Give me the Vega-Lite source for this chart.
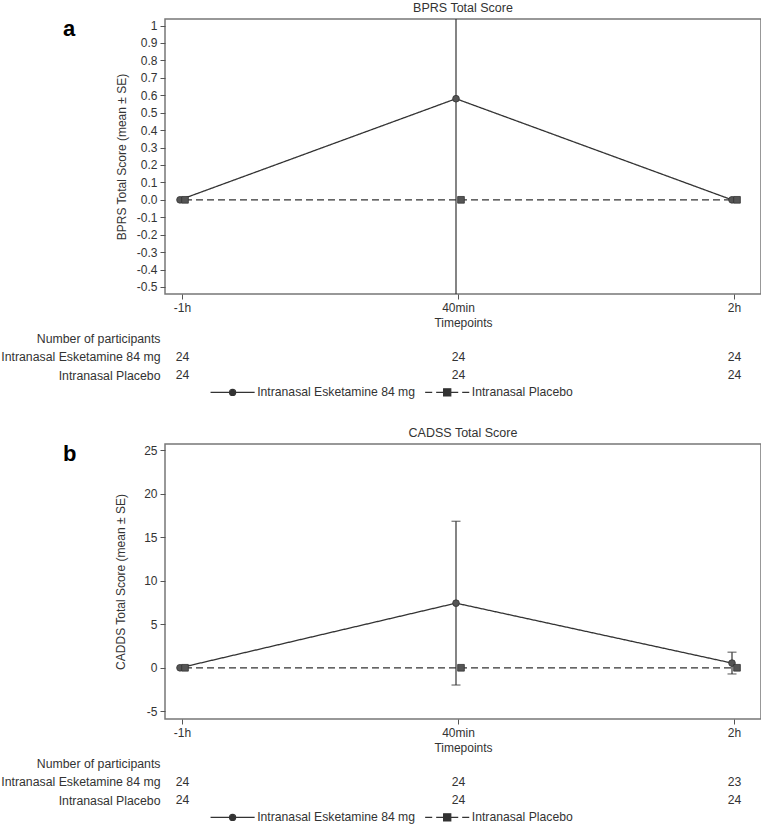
{
  "$schema": "https://vega.github.io/schema/vega-lite/v6.json",
  "background": "white",
  "padding": {"left": 0, "top": 0, "right": 0, "bottom": 0},
  "autosize": {"type": "pad"},
  "spacing": 26,
  "resolve": {"scale": {"color": "independent"}, "legend": {"color": "independent"}},
  "datasets": {
    "bprs": [
      {"time": "-1h", "hour": -1, "group": "Intranasal Esketamine 84 mg", "mean": 0, "lo": 0, "hi": 0},
      {"time": "40min", "hour": 0.667, "group": "Intranasal Esketamine 84 mg", "mean": 0.58, "lo": -0.95, "hi": 2.11},
      {"time": "2h", "hour": 2, "group": "Intranasal Esketamine 84 mg", "mean": 0, "lo": 0, "hi": 0},
      {"time": "-1h", "hour": -1, "group": "Intranasal Placebo", "mean": 0, "lo": 0, "hi": 0},
      {"time": "40min", "hour": 0.667, "group": "Intranasal Placebo", "mean": 0, "lo": 0, "hi": 0},
      {"time": "2h", "hour": 2, "group": "Intranasal Placebo", "mean": 0, "lo": 0, "hi": 0}
    ],
    "cadss": [
      {"time": "-1h", "hour": -1, "group": "Intranasal Esketamine 84 mg", "mean": 0, "lo": 0, "hi": 0},
      {"time": "40min", "hour": 0.667, "group": "Intranasal Esketamine 84 mg", "mean": 7.42, "lo": -1.98, "hi": 16.82},
      {"time": "2h", "hour": 2, "group": "Intranasal Esketamine 84 mg", "mean": 0.54, "lo": -0.71, "hi": 1.79},
      {"time": "-1h", "hour": -1, "group": "Intranasal Placebo", "mean": 0, "lo": 0, "hi": 0},
      {"time": "40min", "hour": 0.667, "group": "Intranasal Placebo", "mean": 0, "lo": 0, "hi": 0},
      {"time": "2h", "hour": 2, "group": "Intranasal Placebo", "mean": 0, "lo": 0, "hi": 0}
    ],
    "nA": [
      {"time": "-1h", "group": "Intranasal Esketamine 84 mg", "n": 24},
      {"time": "40min", "group": "Intranasal Esketamine 84 mg", "n": 24},
      {"time": "2h", "group": "Intranasal Esketamine 84 mg", "n": 24},
      {"time": "-1h", "group": "Intranasal Placebo", "n": 24},
      {"time": "40min", "group": "Intranasal Placebo", "n": 24},
      {"time": "2h", "group": "Intranasal Placebo", "n": 24}
    ],
    "nB": [
      {"time": "-1h", "group": "Intranasal Esketamine 84 mg", "n": 24},
      {"time": "40min", "group": "Intranasal Esketamine 84 mg", "n": 24},
      {"time": "2h", "group": "Intranasal Esketamine 84 mg", "n": 23},
      {"time": "-1h", "group": "Intranasal Placebo", "n": 24},
      {"time": "40min", "group": "Intranasal Placebo", "n": 24},
      {"time": "2h", "group": "Intranasal Placebo", "n": 24}
    ]
  },
  "vconcat": [
    {
      "title": {"text": "a", "anchor": "start", "frame": "group", "fontSize": 22, "fontWeight": "bold", "color": "#000", "dx": -102, "offset": -40},
      "bounds": "flush",
      "spacing": 44,
      "resolve": {"scale": {"color": "independent"}, "legend": {"color": "independent"}},
      "vconcat": [
        {
          "width": 596,
          "height": 275,
          "title": {"text": "BPRS Total Score", "anchor": "middle", "offset": 5},
          "data": {"name": "bprs"},
          "encoding": {
            "x": {"field": "time", "type": "nominal", "sort": null,
              "scale": {"type": "band", "domain": ["-1h", "40min", "2h"], "paddingInner": 0.9275, "paddingOuter": 0.04345, "align": 0.3126},
              "axis": {"title": "Timepoints", "labelAngle": 0, "tickSize": 5, "labelPadding": 3, "titlePadding": 4, "domain": false}},
            "xOffset": {"field": "group", "type": "nominal", "scale": {"domain": ["Intranasal Esketamine 84 mg", "Intranasal Placebo"], "range": [5, 15]}}
          },
          "layer": [
            {
              "mark": {"type": "rule", "clip": true, "color": "#333", "strokeWidth": 1.2},
              "encoding": {
                "y": {"field": "lo", "type": "quantitative", "title": "BPRS Total Score (mean ± SE)",
                  "scale": {"domain": [-0.5402, 1.0373], "nice": false, "zero": false},
                  "axis": {"values": [-0.5, -0.4, -0.3, -0.2, -0.1, 0, 0.1, 0.2, 0.3, 0.4, 0.5, 0.6, 0.7, 0.8, 0.9, 1], "tickCount": 40, "labelOverlap": false, "labelExpr": "datum.value >= 0.99 ? '1' : (datum.value < -0.001 ? '-' + format(-datum.value, '.1f') : format(abs(datum.value), '.1f'))", "tickSize": 5, "labelPadding": 3, "titlePadding": 8, "domain": false}},
                "y2": {"field": "hi"}
              }
            },
            {
              "transform": [{"filter": "datum.hi > datum.lo"}],
              "mark": {"type": "tick", "orient": "horizontal", "size": 9, "thickness": 1.2, "color": "#333", "clip": true},
              "encoding": {"y": {"field": "hi", "type": "quantitative", "title": "BPRS Total Score (mean ± SE)"}}
            },
            {
              "transform": [{"filter": "datum.hi > datum.lo"}],
              "mark": {"type": "tick", "orient": "horizontal", "size": 9, "thickness": 1.2, "color": "#333", "clip": true},
              "encoding": {"y": {"field": "lo", "type": "quantitative", "title": "BPRS Total Score (mean ± SE)"}}
            },
            {
              "mark": {"type": "line", "color": "#333", "strokeWidth": 1.3},
              "encoding": {
                "y": {"field": "mean", "type": "quantitative", "title": "BPRS Total Score (mean ± SE)"},
                "order": {"field": "hour", "type": "quantitative"},
                "strokeDash": {"field": "group", "type": "nominal", "scale": {"domain": ["Intranasal Esketamine 84 mg", "Intranasal Placebo"], "range": [[1, 0], [7, 4]]}, "legend": null}
              }
            },
            {
              "mark": {"type": "point", "filled": true, "fill": "#555", "stroke": "#333", "strokeWidth": 0.8, "size": 45, "opacity": 1},
              "encoding": {
                "y": {"field": "mean", "type": "quantitative", "title": "BPRS Total Score (mean ± SE)"},
                "shape": {"field": "group", "type": "nominal", "scale": {"domain": ["Intranasal Esketamine 84 mg", "Intranasal Placebo"], "range": ["circle", "square"]}, "legend": null}
              }
            }
          ]
        },
        {
          "width": 596,
          "height": 37,
          "data": {"name": "nA"},
          "view": {"stroke": null},
          "mark": {"type": "text", "fontSize": 12.2},
          "encoding": {
            "x": {"field": "time", "type": "nominal", "sort": null,
              "scale": {"type": "band", "domain": ["-1h", "40min", "2h"], "paddingInner": 0.9275, "paddingOuter": 0.04345, "align": 0.3126},
              "axis": null},
            "y": {"field": "group", "type": "nominal",
              "scale": {"type": "point", "domain": ["Number of participants", "Intranasal Esketamine 84 mg", "Intranasal Placebo"], "padding": 0},
              "axis": {"title": null, "domain": false, "ticks": false, "labelPadding": 5, "labelLimit": 300, "labelFontSize": 12.3}},
            "text": {"field": "n", "type": "quantitative"},
            "color": {"field": "group", "type": "nominal",
              "scale": {"domain": ["Intranasal Esketamine 84 mg", "Intranasal Placebo"], "range": ["#333333", "#333333"]},
              "legend": {
                "orient": "none", "legendX": 59.6, "legendY": 46, "direction": "horizontal", "title": null,
                "symbolSize": 216, "labelOffset": 16.6, "columnPadding": 6.6, "padding": 0,
                "labelFontSize": 12.2, "labelColor": "#333", "labelLimit": 300,
                "encode": {"symbols": {"update": {
                  "shape": {"signal": "datum.value == 'Intranasal Placebo' ? 'M-3,0H-2.04M-1.5,0H-0.48M0.48,0H1.5M2.04,0H3M-0.48,-0.48H0.48V0.48H-0.48Z' : 'M-3,0H3M-0.41,0A0.41,0.41,0,1,1,0.41,0A0.41,0.41,0,1,1,-0.41,0Z'"},
                  "fill": {"value": "#555"}, "stroke": {"value": "#333"}, "strokeWidth": {"value": 1.3}, "opacity": {"value": 1}
                }}}
              }}
          }
        }
      ]
    },
    {
      "title": {"text": "b", "anchor": "start", "frame": "group", "fontSize": 22, "fontWeight": "bold", "color": "#000", "dx": -102, "offset": -40},
      "bounds": "flush",
      "spacing": 44,
      "resolve": {"scale": {"color": "independent"}, "legend": {"color": "independent"}},
      "vconcat": [
        {
          "width": 596,
          "height": 275,
          "title": {"text": "CADSS Total Score", "anchor": "middle", "offset": 5},
          "data": {"name": "cadss"},
          "encoding": {
            "x": {"field": "time", "type": "nominal", "sort": null,
              "scale": {"type": "band", "domain": ["-1h", "40min", "2h"], "paddingInner": 0.9275, "paddingOuter": 0.04345, "align": 0.3126},
              "axis": {"title": "Timepoints", "labelAngle": 0, "tickSize": 5, "labelPadding": 3, "titlePadding": 4, "domain": false}},
            "xOffset": {"field": "group", "type": "nominal", "scale": {"domain": ["Intranasal Esketamine 84 mg", "Intranasal Placebo"], "range": [5, 15]}}
          },
          "layer": [
            {
              "mark": {"type": "rule", "clip": true, "color": "#333", "strokeWidth": 1.2},
              "encoding": {
                "y": {"field": "lo", "type": "quantitative", "title": "CADDS Total Score (mean ± SE)",
                  "scale": {"domain": [-5.88, 25.69], "nice": false, "zero": false},
                  "axis": {"values": [-5, 0, 5, 10, 15, 20, 25], "tickCount": 40, "labelOverlap": false, "labelExpr": "replace(datum.label, '−', '-')", "tickSize": 5, "labelPadding": 3, "titlePadding": 16, "domain": false}},
                "y2": {"field": "hi"}
              }
            },
            {
              "transform": [{"filter": "datum.hi > datum.lo"}],
              "mark": {"type": "tick", "orient": "horizontal", "size": 9, "thickness": 1.2, "color": "#333", "clip": true},
              "encoding": {"y": {"field": "hi", "type": "quantitative", "title": "CADDS Total Score (mean ± SE)"}}
            },
            {
              "transform": [{"filter": "datum.hi > datum.lo"}],
              "mark": {"type": "tick", "orient": "horizontal", "size": 9, "thickness": 1.2, "color": "#333", "clip": true},
              "encoding": {"y": {"field": "lo", "type": "quantitative", "title": "CADDS Total Score (mean ± SE)"}}
            },
            {
              "mark": {"type": "line", "color": "#333", "strokeWidth": 1.3},
              "encoding": {
                "y": {"field": "mean", "type": "quantitative", "title": "CADDS Total Score (mean ± SE)"},
                "order": {"field": "hour", "type": "quantitative"},
                "strokeDash": {"field": "group", "type": "nominal", "scale": {"domain": ["Intranasal Esketamine 84 mg", "Intranasal Placebo"], "range": [[1, 0], [7, 4]]}, "legend": null}
              }
            },
            {
              "mark": {"type": "point", "filled": true, "fill": "#555", "stroke": "#333", "strokeWidth": 0.8, "size": 45, "opacity": 1},
              "encoding": {
                "y": {"field": "mean", "type": "quantitative", "title": "CADDS Total Score (mean ± SE)"},
                "shape": {"field": "group", "type": "nominal", "scale": {"domain": ["Intranasal Esketamine 84 mg", "Intranasal Placebo"], "range": ["circle", "square"]}, "legend": null}
              }
            }
          ]
        },
        {
          "width": 596,
          "height": 37,
          "data": {"name": "nB"},
          "view": {"stroke": null},
          "mark": {"type": "text", "fontSize": 12.2},
          "encoding": {
            "x": {"field": "time", "type": "nominal", "sort": null,
              "scale": {"type": "band", "domain": ["-1h", "40min", "2h"], "paddingInner": 0.9275, "paddingOuter": 0.04345, "align": 0.3126},
              "axis": null},
            "y": {"field": "group", "type": "nominal",
              "scale": {"type": "point", "domain": ["Number of participants", "Intranasal Esketamine 84 mg", "Intranasal Placebo"], "padding": 0},
              "axis": {"title": null, "domain": false, "ticks": false, "labelPadding": 5, "labelLimit": 300, "labelFontSize": 12.3}},
            "text": {"field": "n", "type": "quantitative"},
            "color": {"field": "group", "type": "nominal",
              "scale": {"domain": ["Intranasal Esketamine 84 mg", "Intranasal Placebo"], "range": ["#333333", "#333333"]},
              "legend": {
                "orient": "none", "legendX": 59.6, "legendY": 46, "direction": "horizontal", "title": null,
                "symbolSize": 216, "labelOffset": 16.6, "columnPadding": 6.6, "padding": 0,
                "labelFontSize": 12.2, "labelColor": "#333", "labelLimit": 300,
                "encode": {"symbols": {"update": {
                  "shape": {"signal": "datum.value == 'Intranasal Placebo' ? 'M-3,0H-2.04M-1.5,0H-0.48M0.48,0H1.5M2.04,0H3M-0.48,-0.48H0.48V0.48H-0.48Z' : 'M-3,0H3M-0.41,0A0.41,0.41,0,1,1,0.41,0A0.41,0.41,0,1,1,-0.41,0Z'"},
                  "fill": {"value": "#555"}, "stroke": {"value": "#333"}, "strokeWidth": {"value": 1.3}, "opacity": {"value": 1}
                }}}
              }}
          }
        }
      ]
    }
  ],
  "config": {
    "font": "Liberation Sans",
    "view": {"stroke": "#777", "strokeWidth": 1.5},
    "title": {"fontSize": 12.5, "fontWeight": "normal", "color": "#333", "font": "Liberation Sans"},
    "axis": {"labelFont": "Liberation Sans", "labelFontSize": 12, "labelColor": "#333", "titleFont": "Liberation Sans", "titleFontSize": 12, "titleFontWeight": "normal", "titleColor": "#333", "tickColor": "#555", "grid": false},
    "legend": {"labelFont": "Liberation Sans"},
    "text": {"font": "Liberation Sans"}
  }
}
